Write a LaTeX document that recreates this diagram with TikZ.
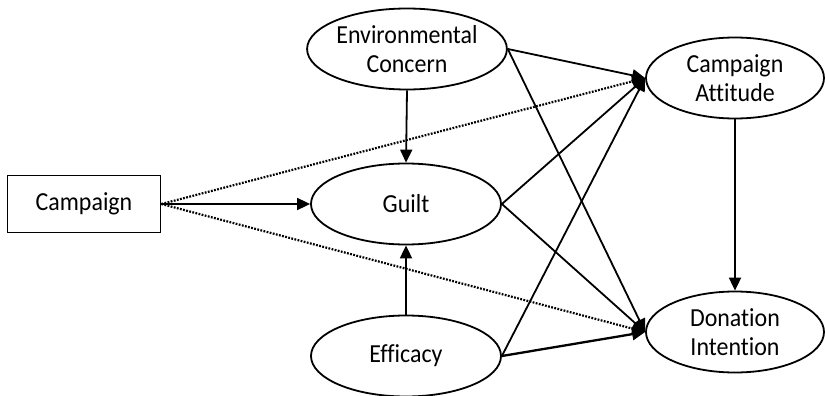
\documentclass[tikz,border=0pt]{standalone}
\usepackage{fontspec}
\setmainfont{Carlito}[FakeStretch=0.92, Ligatures=CommonOff]
\usetikzlibrary{shapes.geometric,arrows.meta}
\begin{document}
\begin{tikzpicture}[x=1pt,y=-1pt,
  every node/.style={font=\fontsize{26}{29}\selectfont, align=center},
  oval/.style={ellipse, draw, line width=1.8pt, inner sep=0pt, minimum width=190pt, minimum height=81pt},
  ovalr/.style={oval, minimum width=178pt},
  boxn/.style={rectangle, draw, line width=1.8pt, inner sep=0pt, minimum width=153pt, minimum height=57pt},
  arr/.style={line width=1.8pt, -{Triangle[length=13pt,width=12pt]}},
  dotarr/.style={arr, line width=2.2pt, dash pattern=on 1.8pt off 1.4pt}
]
\useasboundingbox (0,0) rectangle (825,396);
\node[boxn] (camp) at (84,204) {Campaign};
\node[oval] (env) at (407,49) {Environmental\\Concern};
\node[oval] (guilt) at (406,204) {Guilt};
\node[oval] (eff) at (406,356) {Efficacy};
\node[ovalr] (att) at (735,78) {Campaign\\Attitude};
\node[ovalr] (don) at (735,332) {Donation\\Intention};

\draw[arr] (camp.east) -- (guilt.west);
\draw[dotarr] (camp.east) -- (att.west);
\draw[dotarr] (camp.east) -- (don.west);
\draw[arr] (env.south) -- (guilt.north);
\draw[arr] (eff.north) -- (guilt.south);
\draw[arr] (env.east) -- (att.west);
\draw[arr] (env.east) -- (don.west);
\draw[arr] (guilt.east) -- (att.west);
\draw[arr] (guilt.east) -- (don.west);
\draw[arr] (eff.east) -- (att.west);
\draw[arr, line width=2.3pt] (eff.east) -- (don.west);
\draw[arr] (att.south) -- (don.north);
\end{tikzpicture}
\end{document}
